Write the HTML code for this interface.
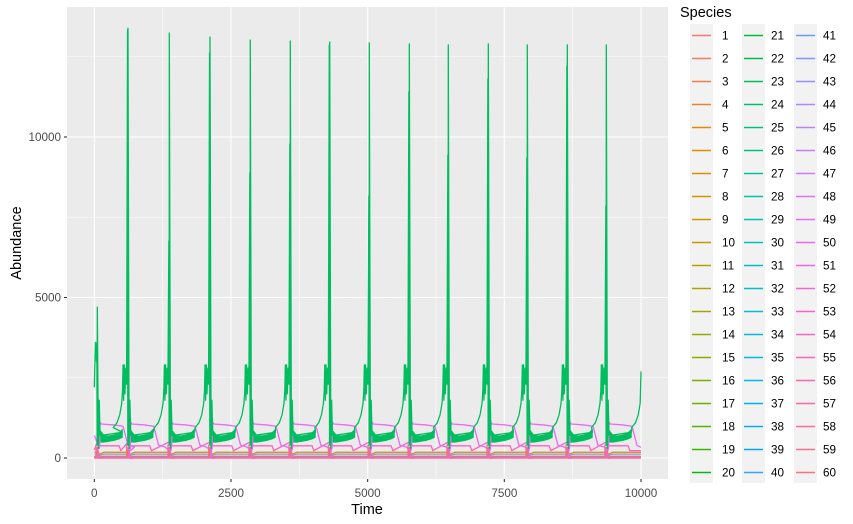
<!DOCTYPE html>
<html><head><meta charset="utf-8"><style>
html,body{margin:0;padding:0;background:#fff;}
svg{display:block;font-family:"Liberation Sans",Arial,sans-serif;}
</style></head><body>
<svg id="chart" width="853" height="524" viewBox="0 0 853 524">
<rect x="0" y="0" width="853" height="524" fill="#fff"/>
<rect x="67" y="7" width="601" height="472" fill="#EBEBEB"/>
<g id="grid"></g>
<g id="clip-g"><clipPath id="pc"><rect x="67" y="7" width="601" height="472"/></clipPath></g>
<g id="series" clip-path="url(#pc)"></g>
<g id="axes"></g>
<text x="367" y="514" text-anchor="middle" font-size="14.5" fill="#000">Time</text>
<text transform="translate(21,243) rotate(-90)" text-anchor="middle" font-size="14.5" fill="#000">Abundance</text>
<text x="680" y="17" font-size="14.5" fill="#000">Species</text>
<g id="legend"></g>
</svg>
<script>
// ---- data ----
const xTicks = [0, 2500, 5000, 7500, 10000];
const xMinor = [1250, 3750, 6250, 8750];
const yTicks = [0, 5000, 10000];
const yMinor = [2500, 7500, 12500];
const peakT = [55, 616, 1372, 2116, 2853, 3585, 4306, 5030, 5762, 6475, 7207, 7920, 8652, 9365];
const peakV = [4700, 13386, 13240, 13115, 13020, 12990, 12960, 12930, 12900, 12870, 12900, 12870, 12870, 12870];
const secV  = [3600, 13330, 6760, 12620, 8880, 9780, 12870, 8160, 11400, 9440, 11810, 9350, 12210, 7850];
const preDt = [-270, -200, -150, -115, -100, -90, -80, -68, -55, -40, -25];
const preV  = [950, 1100, 1350, 1700, 2100, 2900, 1800, 2900, 2000, 2800, 2300];
const postDt = [20, 35, 50];
const postV  = [300, 1800, 700];
const bandDt = [60, 120, 200, 300, 400, 460];
const bandLo = [490, 490, 510, 540, 590, 640];
const bandHi = [850, 720, 690, 720, 790, 900];
const startT = [0, 20, 40];
const startV = [2200, 3600, 3000];
const endV = 2700;
const plateauDt = [40, 50, 70, 300, 470, 500, 560, 680];
const plateauV  = [300, 1120, 1060, 1030, 990, 800, 400, 340];
const hotDt = [60, 400, 430];
const hotV  = [380, 380, 230];
const flatSpecies = [5, 42, 11, 30, 37, 2, 57];
const flatV = [180, 120, 55, 40, 25, 10, 15];
const burstV = [420, 300, 250, 350, 200];
const burstSpecies = [57, 55, 11, 54, 52];

// ---- scales ----
const X0 = 94.3, XS = (641 - 94.3) / 10000;
const Y0 = 458, YS = (458 - 137) / 10000;
const sx = t => X0 + t * XS;
const sy = v => Y0 - v * YS;

function hcl(h, c, l) {
  const Xn = 95.047, Yn = 100, Zn = 108.883;
  const un = 4 * Xn / (Xn + 15 * Yn + 3 * Zn), vn = 9 * Yn / (Xn + 15 * Yn + 3 * Zn);
  const Y = Yn * Math.pow((l + 16) / 116, 3);
  const hr = h * Math.PI / 180;
  const u = c * Math.cos(hr), v = c * Math.sin(hr);
  const up = u / (13 * l) + un, vp = v / (13 * l) + vn;
  const X = Y * 9 * up / (4 * vp), Z = Y * (12 - 3 * up - 20 * vp) / (4 * vp);
  const x = X / 100, y = Y / 100, z = Z / 100;
  let r = 3.2406 * x - 1.5372 * y - 0.4986 * z;
  let g = -0.9689 * x + 1.8758 * y + 0.0415 * z;
  let b = 0.0557 * x - 0.2040 * y + 1.0570 * z;
  const gm = q => { q = q <= 0.0031308 ? 12.92 * q : 1.055 * Math.pow(q, 1 / 2.4) - 0.055; return Math.round(Math.max(0, Math.min(1, q)) * 255); };
  return '#' + [gm(r), gm(g), gm(b)].map(n => n.toString(16).padStart(2, '0')).join('');
}
const col = i => hcl(15 + 6 * (i - 1), 100, 65);
const NS = 'http://www.w3.org/2000/svg';
function mk(tag, attrs, parent) {
  const e = document.createElementNS(NS, tag);
  for (const k in attrs) e.setAttribute(k, attrs[k]);
  parent.appendChild(e);
  return e;
}

// ---- grid ----
const grid = document.getElementById('grid');
xMinor.forEach(t => { const l = mk('line', { x1: sx(t), x2: sx(t), y1: 7, y2: 479, stroke: '#fff', 'stroke-width': 0.55 }, grid);
  
   });
yMinor.forEach(v => { const l = mk('line', { x1: 67, x2: 668, y1: sy(v), y2: sy(v), stroke: '#fff', 'stroke-width': 0.55 }, grid);
  
   });
xTicks.forEach(t => { const l = mk('line', { x1: sx(t), x2: sx(t), y1: 7, y2: 479, stroke: '#fff', 'stroke-width': 1.1 }, grid);
  
   });
yTicks.forEach(v => { const l = mk('line', { x1: 67, x2: 668, y1: sy(v), y2: sy(v), stroke: '#fff', 'stroke-width': 1.1 }, grid);
  
   });

// ---- axes ----
const axes = document.getElementById('axes');
xTicks.forEach(t => {
  const tk = mk('line', { x1: sx(t), x2: sx(t), y1: 479, y2: 482, stroke: '#333', 'stroke-width': 1.1 }, axes);
  
  
  const tx = mk('text', { x: sx(t), y: 497, 'text-anchor': 'middle', 'font-size': 11.7, fill: '#4D4D4D' }, axes);
  tx.textContent = t;
  
  
});
yTicks.forEach(v => {
  const tk = mk('line', { x1: 64, x2: 67, y1: sy(v), y2: sy(v), stroke: '#333', 'stroke-width': 1.1 }, axes);
  
  
  const tx = mk('text', { x: 61, y: sy(v) + 4, 'text-anchor': 'end', 'font-size': 11.7, fill: '#4D4D4D' }, axes);
  tx.textContent = v;
  
  
});

// ---- series ----
const S = document.getElementById('series');
function line(pts, color, w, name) {
  const d = pts.filter(p => p[0] <= 10000).map((p, i) => (i ? 'L' : 'M') + sx(p[0]).toFixed(2) + ',' + sy(p[1]).toFixed(2)).join('');
  const p = mk('path', { d: d, fill: 'none', stroke: color, 'stroke-width': w, 'stroke-linejoin': 'round' }, S);
  
  
  return p;
}
const n = peakT.length;
flatSpecies.forEach((sp, k) => {
  const pts = [[0, flatV[k]]];
  for (let c = 0; c < n; c++) { pts.push([peakT[c] - 10, flatV[k]], [peakT[c], flatV[k] * 1.8], [peakT[c] + 30, flatV[k] * 0.6], [peakT[c] + 120, flatV[k]]); }
  pts.push([10000, flatV[k]]);
  line(pts, col(sp), sp === 57 ? 2.5 : 1.3, 'series-species-' + sp);
});
{
  const pts = [[0, 250]];
  for (let c = 0; c < n; c++) { pts.push([peakT[c], 500]); hotDt.forEach((d, k) => pts.push([peakT[c] + d, hotV[k]])); }
  pts.push([10000, 230]);
  line(pts, col(54), 1.3, 'series-species-54');
}
{
  const pts = [[0, 700]];
  for (let c = 0; c < n; c++) { plateauDt.forEach((d, k) => pts.push([peakT[c] + d, plateauV[k]])); if (c + 1 < n) pts.push([peakT[c + 1] + 20, 200]); }
  pts.push([10000, 330]);
  line(pts, col(49), 1.3, 'series-species-49');
}
for (let c = 0; c < n; c++) {
  burstSpecies.forEach((sp, k) => {
    const t = peakT[c] + (k - 2) * 12;
    const b = mk('line', { x1: sx(t), x2: sx(t), y1: sy(0), y2: sy(burstV[k]), stroke: col(sp), 'stroke-width': 1.3 }, S);
    
    
  });
}
const g = col(23);
for (let c = 0; c < n; c++) {
  const tp = peakT[c];
  const lo = bandDt.map((d, k) => [tp + d, bandLo[k]]);
  const hi = bandDt.map((d, k) => [tp + d, bandHi[k]]).reverse();
  const poly = lo.concat(hi).filter(p => p[0] <= 10000);
  const pe = mk('polygon', { points: poly.map(p => sx(p[0]).toFixed(2) + ',' + sy(p[1]).toFixed(2)).join(' '), fill: g, stroke: g, 'stroke-width': 0.6 }, S);
  
  
}
{
  const pts = startT.map((t, k) => [t, startV[k]]);
  for (let c = 0; c < n; c++) {
    const tp = peakT[c];
    if (c > 0) preDt.forEach((d, k) => pts.push([tp + d, preV[k]]));
    pts.push([tp - 8, secV[c]], [tp - 3, 400], [tp, peakV[c]]);
    postDt.forEach((d, k) => pts.push([tp + d, postV[k]]));
    pts.push([tp + 60, 700], [tp + 460, 800]);
  }
  const virt = peakT[n - 1] + 735;
  preDt.forEach((d, k) => { if (virt + d < 10000) pts.push([virt + d, preV[k]]); });
  pts.push([10000, endV]);
  line(pts, g, 1.3, 'series-species-23');
}

// ---- legend ----
const L = document.getElementById('legend');
const colX = [690, 742, 794];
const labX = [722, 771, 823];
for (let cI = 0; cI < 3; cI++) {
  const bg = mk('rect', { x: colX[cI], y: 24, width: 23, height: 459, fill: '#F2F2F2' }, L);
  
  
  for (let r = 0; r < 20; r++) {
    const sp = cI * 20 + r + 1;
    const y = 35.5 + 23 * r;
    const ln = mk('line', { x1: colX[cI] + 2, x2: colX[cI] + 21, y1: y, y2: y, stroke: col(sp), 'stroke-width': 1.4 }, L);
    
    
    const tx = mk('text', { x: labX[cI], y: y + 4, 'font-size': 11.7, fill: '#000' }, L);
    tx.textContent = sp;
    
    
  }
}
</script>
</body></html>
